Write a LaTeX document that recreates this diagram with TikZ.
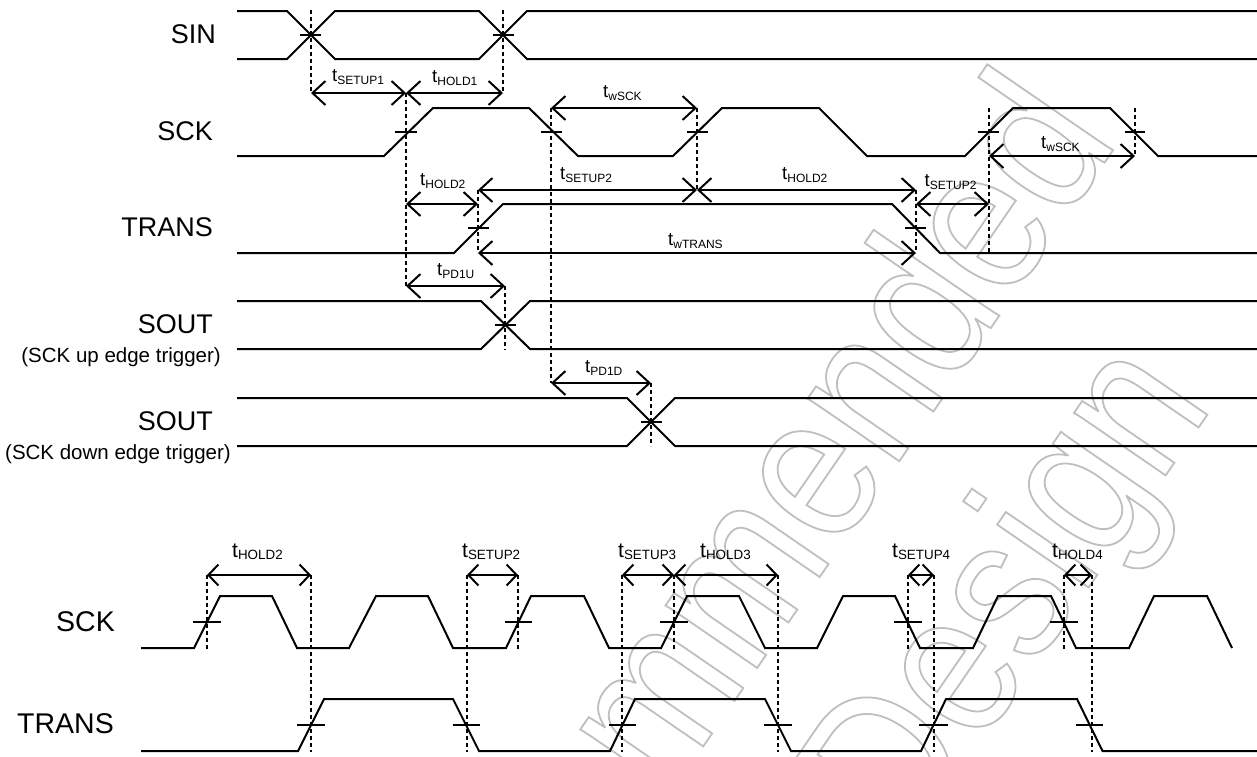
\documentclass[tikz,border=0pt]{standalone}
\usepackage{fontspec}
\setmainfont{Liberation Sans}
\newfontfamily\wmfont[FakeStretch=0.86]{Liberation Sans}
\newfontfamily\wmfontb[FakeStretch=0.83]{Liberation Sans}
\usetikzlibrary{arrows.meta}
\tikzset{
  sig/.style={line width=2pt,line join=miter},
  tickm/.style={line width=2pt},
  dashl/.style={line width=2pt,dash pattern=on 4pt off 3pt},
  dim/.style={line width=2pt,{Straight Barb[length=13pt,width=24pt,line width=2pt]}-{Straight Barb[length=13pt,width=24pt,line width=2pt]}},
  dimb/.style={line width=2pt,{Straight Barb[length=10pt,width=21pt,line width=2pt]}-{Straight Barb[length=10pt,width=21pt,line width=2pt]}},
  lab/.style={inner sep=0pt,anchor=base east,font=\fontsize{27}{30}\selectfont},
  labb/.style={inner sep=0pt,anchor=base east,font=\fontsize{28.5}{30}\selectfont},
  small/.style={inner sep=0pt,anchor=base east,font=\fontsize{20.5}{24}\selectfont},
  tlab/.style={inner sep=0pt,anchor=base west},
  wm/.style={inner sep=0pt,rotate=55.5,anchor=base east},
}
\newcommand{\tl}[1]{\fontsize{18.5}{20}\selectfont t\raisebox{-3pt}{\fontsize{12}{14}\selectfont #1}}
\newcommand{\tb}[1]{\fontsize{21}{22}\selectfont t\raisebox{-2.5pt}{\fontsize{13.4}{16}\selectfont #1}}
\newcommand{\wmtext}[1]{\special{pdf:code 1 Tr 0.75 G 1.8 w}#1\special{pdf:code 0 Tr}}
\begin{document}
\begin{tikzpicture}[x=1pt,y=-1pt]
\useasboundingbox (0,0) rectangle (1257,756);
% watermark
\begin{scope}
\clip (0,0) rectangle (1257,756);
\node[wm,font=\wmfont\fontsize{210}{210}\selectfont] (wma) at (1120,140) {\wmtext{Not Recommended}};
\node[wm,font=\wmfontb\fontsize{210}{210}\selectfont] (wmb) at (1214,405) {\wmtext{for New Design}};
\end{scope}
% SIN
\draw[sig] (237,11) -- (287,11) -- (335,59) -- (479,59) -- (527,11) -- (1257,11);
\draw[sig] (237,59) -- (287,59) -- (335,11) -- (479,11) -- (527,59) -- (1257,59);
% SCK
\draw[sig] (237,156) -- (384,156) -- (433,108) -- (529,108) -- (578,156) -- (673,156) -- (722,108) -- (819,108) -- (867,156) -- (965,156) -- (1013,108) -- (1110,108) -- (1158,156) -- (1257,156);
% TRANS
\draw[sig] (237,253) -- (454,253) -- (503,204) -- (892,204) -- (940,253) -- (1257,253);
% SOUT up
\draw[sig] (237,301) -- (481,301) -- (530,349) -- (1257,349);
\draw[sig] (237,349) -- (481,349) -- (530,301) -- (1257,301);
% SOUT down
\draw[sig] (237,398) -- (627,398) -- (675,446) -- (1257,446);
\draw[sig] (237,446) -- (627,446) -- (675,398) -- (1257,398);
% lower SCK
\draw[sig] (141,648) -- (194,648) -- (220,596) -- (272,596) -- (297,648) -- (349,648) -- (376,596) -- (428,596) -- (453,648) -- (506,648) -- (531,596) -- (584,596) -- (609,648) -- (661,648) -- (687,596) -- (739,596) -- (765,648) -- (817,648) -- (843,596) -- (895,596) -- (920,648) -- (973,648) -- (998,596) -- (1051,596) -- (1076,648) -- (1129,648) -- (1154,596) -- (1207,596) -- (1232,648);
% lower TRANS
\draw[sig] (141,751) -- (298,751) -- (324,699) -- (453,699) -- (479,751) -- (610,751) -- (635,699) -- (765,699) -- (791,751) -- (921,751) -- (946,699) -- (1077,699) -- (1102.5,751) -- (1257,751);
% ticks
\foreach \a/\b/\y in {300/321/35,493/514/35,395/417/132,541/562/132,687/708/132,978/999/132,1124.5/1145/132,468/489/228,905/926/228,495/516/325,641/662/422,193/221/622,505/532/622,660/688/622,894/922/622,1050/1078/622,297/325/725,452.5/480/725,608.5/636/725,764/791.5/725,919/947.5/725,1076/1103/725}
  \draw[tickm] (\a,\y) -- (\b,\y);
% dashed verticals
\foreach \x/\a/\b in {311/10/93,503/10/93,406/93/286,551/108/383,697/108/190,478/190/253,989/108/253,916/190/253,1135/108/156,505/286/350,651/383/446,207/575/650,311/575/752,467/575/752,518/575/650,622/575/752,674/575/650,778/575/752,908/575/649,934/575/752,1064/575/649,1092/575/752}
  \draw[dashl] (\x,\a) -- (\x,\b);
% dimension arrows
\foreach \a/\b/\y in {311/406/93,406/503/93,551/697/108,406/478/204,478/697/190,697/916/190,916/989/204,478/916/253,406/505/286,551/651/383,989/1135/156}
  \draw[dim] (\a,\y) -- (\b,\y);
\foreach \a/\b in {207/311,467/518,622/674,674/778,908/934,1064/1092}
  \draw[dimb] (\a,575) -- (\b,575);
% timing labels
\node[tlab] (l1) at (332,81) {\tl{SETUP1}};
\node[tlab] (l2) at (432,82) {\tl{HOLD1}};
\node[tlab] (l3) at (603,97.5) {\tl{wSCK}};
\node[tlab] (l4) at (420,185.5) {\tl{HOLD2}};
\node[tlab] (l5) at (560,179) {\tl{SETUP2}};
\node[tlab] (l6) at (782,179) {\tl{HOLD2}};
\node[tlab] (l7) at (924.5,186) {\tl{SETUP2}};
\node[tlab] (l8) at (668,245) {\tl{wTRANS}};
\node[tlab] (l9) at (437,275) {\tl{PD1U}};
\node[tlab] (l10) at (585,372) {\tl{PD1D}};
\node[tlab] (l11) at (1041,148) {\tl{wSCK}};
\node[tlab] (b1) at (232,557) {\tb{HOLD2}};
\node[tlab] (b2) at (462,557) {\tb{SETUP2}};
\node[tlab] (b3) at (618,557) {\tb{SETUP3}};
\node[tlab] (b4) at (700,557) {\tb{HOLD3}};
\node[tlab] (b5) at (892,557) {\tb{SETUP4}};
\node[tlab] (b6) at (1052,557) {\tb{HOLD4}};
% signal labels
\node[lab] (n1) at (216,43) {SIN};
\node[lab] (n2) at (213,140) {SCK};
\node[lab] (n3) at (213,236) {TRANS};
\node[lab] (n4) at (213,333) {SOUT};
\node[small] (n5) at (221,362) {(SCK up edge trigger)};
\node[lab] (n6) at (213,430) {SOUT};
\node[small] (n7) at (231,459) {(SCK down edge trigger)};
\node[labb] (n8) at (115,631) {SCK};
\node[labb] (n9) at (114,733) {TRANS};
\end{tikzpicture}
\end{document}
